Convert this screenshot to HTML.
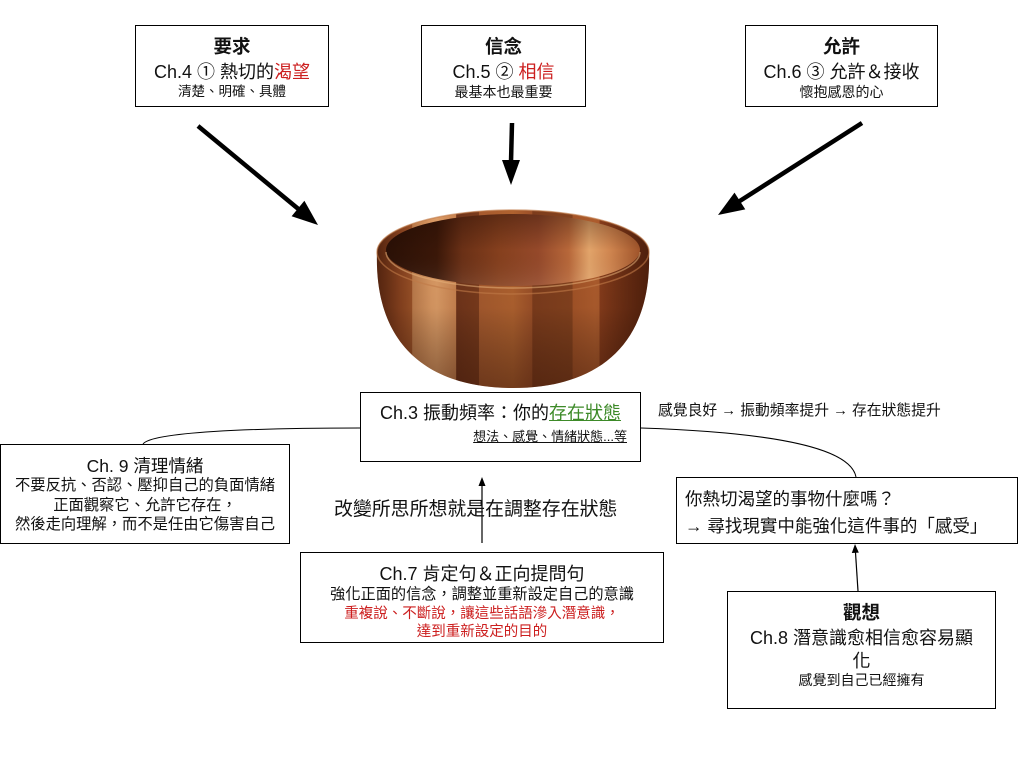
<!DOCTYPE html>
<html>
<head>
<meta charset="utf-8">
<style>
  html,body{margin:0;padding:0;background:#fff;}
  body{width:1024px;height:768px;position:relative;overflow:hidden;
    font-family:"Liberation Sans","Noto Sans CJK TC","Noto Sans CJK SC",sans-serif;color:#111;}
  .box{position:absolute;border:1px solid #000;background:#fff;box-sizing:border-box;}
  .l{position:absolute;left:0;right:0;text-align:center;white-space:nowrap;line-height:24px;height:24px;}
  .b{font-weight:bold;}
  .red{color:#cc1f1f;}
  .grn{color:#3d8a28;text-decoration:underline;}
  .lab{position:absolute;white-space:nowrap;line-height:24px;height:24px;}
  svg{position:absolute;left:0;top:0;}
</style>
</head>
<body>
<svg width="1024" height="768" viewBox="0 0 1024 768">
  <defs>
    <linearGradient id="stripes" gradientUnits="userSpaceOnUse" x1="377" y1="0" x2="649" y2="0">
      <stop offset="0" stop-color="#6e3216"/>
      <stop offset="0.08" stop-color="#9a4c24"/>
      <stop offset="0.129" stop-color="#a85a2c"/>
      <stop offset="0.13" stop-color="#cf8a55"/>
      <stop offset="0.22" stop-color="#dc9c66"/>
      <stop offset="0.29" stop-color="#c98350"/>
      <stop offset="0.292" stop-color="#70341a"/>
      <stop offset="0.374" stop-color="#7a3b1c"/>
      <stop offset="0.376" stop-color="#a65a2e"/>
      <stop offset="0.5" stop-color="#b0622f"/>
      <stop offset="0.57" stop-color="#9c5028"/>
      <stop offset="0.572" stop-color="#7d3c1c"/>
      <stop offset="0.718" stop-color="#84421e"/>
      <stop offset="0.72" stop-color="#a45428"/>
      <stop offset="0.817" stop-color="#b05e2e"/>
      <stop offset="0.819" stop-color="#8a3e1c"/>
      <stop offset="1" stop-color="#6a2c12"/>
    </linearGradient>
    <linearGradient id="shadeV" x1="0" y1="0" x2="0" y2="1">
      <stop offset="0" stop-color="#000" stop-opacity="0"/>
      <stop offset="0.55" stop-color="#000" stop-opacity="0.05"/>
      <stop offset="1" stop-color="#2a0e04" stop-opacity="0.45"/>
    </linearGradient>
    <linearGradient id="shadeH" x1="0" y1="0" x2="1" y2="0">
      <stop offset="0" stop-color="#2a0e04" stop-opacity="0.35"/>
      <stop offset="0.2" stop-color="#2a0e04" stop-opacity="0"/>
      <stop offset="0.8" stop-color="#2a0e04" stop-opacity="0"/>
      <stop offset="1" stop-color="#2a0e04" stop-opacity="0.4"/>
    </linearGradient>
    <linearGradient id="inner" gradientUnits="userSpaceOnUse" x1="386" y1="0" x2="640" y2="0">
      <stop offset="0" stop-color="#2a1006"/>
      <stop offset="0.2" stop-color="#3a1708"/>
      <stop offset="0.3" stop-color="#6a3016"/>
      <stop offset="0.45" stop-color="#86401e"/>
      <stop offset="0.6" stop-color="#95492a"/>
      <stop offset="0.72" stop-color="#b8683a"/>
      <stop offset="0.8" stop-color="#e2a46a"/>
      <stop offset="0.88" stop-color="#d08650"/>
      <stop offset="1" stop-color="#a0542a"/>
    </linearGradient>
    <linearGradient id="innerV" x1="0" y1="0" x2="0" y2="1">
      <stop offset="0" stop-color="#1a0802" stop-opacity="0.35"/>
      <stop offset="0.5" stop-color="#1a0802" stop-opacity="0"/>
      <stop offset="1" stop-color="#fff" stop-opacity="0.08"/>
    </linearGradient>
  </defs>

  <!-- Bowl -->
  <path id="bowlBody" d="M377,252 A136,42 0 0 1 649,252 C652,345 598,388 513,388 C428,388 374,345 377,252 Z" fill="url(#stripes)"/>
  <path d="M377,252 A136,42 0 0 1 649,252 C652,345 598,388 513,388 C428,388 374,345 377,252 Z" fill="url(#shadeV)"/>
  <path d="M377,252 A136,42 0 0 1 649,252 C652,345 598,388 513,388 C428,388 374,345 377,252 Z" fill="url(#shadeH)"/>
  <ellipse cx="513" cy="252" rx="136" ry="42" fill="none" stroke="#c07a48" stroke-width="1.5" stroke-opacity="0.6"/>
  <ellipse cx="513" cy="250" rx="127" ry="36" fill="url(#inner)"/>
  <ellipse cx="513" cy="250" rx="127" ry="36" fill="url(#innerV)"/>
  <path d="M386,252 A127,36 0 0 0 640,252" fill="none" stroke="#e6b07a" stroke-width="1.5" stroke-opacity="0.55"/>

  <!-- Thick arrows -->
  <line x1="198" y1="126" x2="299" y2="209.5" stroke="#000" stroke-width="4.5"/>
  <polygon points="318,225 291.6,216.2 304.4,200.8" fill="#000"/>
  <line x1="512" y1="123" x2="511" y2="162" stroke="#000" stroke-width="4.5"/>
  <polygon points="511,185 502,160 520,160" fill="#000"/>
  <line x1="862" y1="123" x2="739" y2="201.5" stroke="#000" stroke-width="4.5"/>
  <polygon points="718,215 734.5,192.6 745.3,209.4" fill="#000"/>

  <!-- Curved connectors -->
  <path d="M143,444 C152,432 250,428 360,428" fill="none" stroke="#000" stroke-width="1"/>
  <path d="M641,428 C760,432 850,445 856,477" fill="none" stroke="#000" stroke-width="1"/>

  <!-- Thin arrows -->
  <line x1="482" y1="543" x2="482" y2="484" stroke="#000" stroke-width="1.2"/>
  <polygon points="482,477 478.5,486 485.5,486" fill="#000"/>
  <line x1="858" y1="591" x2="855.4" y2="551" stroke="#000" stroke-width="1.2"/>
  <polygon points="855,544 851.8,553 858.8,552.6" fill="#000"/>
</svg>

<!-- Top boxes -->
<div class="box" style="left:135px;top:25px;width:194px;height:82px;">
  <div class="l b" style="top:9px;font-size:18.5px;">要求</div>
  <div class="l" style="top:34px;font-size:18px;">Ch.4 ① 熱切的<span class="red">渴望</span></div>
  <div class="l" style="top:54px;font-size:13.5px;">清楚、明確、具體</div>
</div>
<div class="box" style="left:421px;top:25px;width:165px;height:82px;">
  <div class="l b" style="top:9px;font-size:18.5px;">信念</div>
  <div class="l" style="top:34px;font-size:18px;">Ch.5 ② <span class="red">相信</span></div>
  <div class="l" style="top:54px;font-size:14px;">最基本也最重要</div>
</div>
<div class="box" style="left:745px;top:25px;width:193px;height:82px;">
  <div class="l b" style="top:9px;font-size:18.5px;">允許</div>
  <div class="l" style="top:34px;font-size:18px;">Ch.6 ③ 允許＆接收</div>
  <div class="l" style="top:54px;font-size:14px;">懷抱感恩的心</div>
</div>

<!-- Ch.3 -->
<div class="box" style="left:360px;top:392px;width:281px;height:70px;">
  <div class="l" style="top:8px;font-size:18px;">Ch.3 振動頻率：你的<span class="grn">存在狀態</span></div>
  <div class="l" style="top:32px;font-size:13px;text-align:right;right:13px;left:auto;text-decoration:underline;">想法、感覺、情緒狀態...等</div>
</div>
<div class="lab" style="left:658px;top:399px;font-size:14.8px;">感覺良好 → 振動頻率提升 → 存在狀態提升</div>

<!-- Ch.9 -->
<div class="box" style="left:0px;top:444px;width:290px;height:100px;">
  <div class="l" style="top:9px;font-size:17.5px;">Ch. 9 清理情緒</div>
  <div class="l" style="top:29px;font-size:15.3px;">不要反抗、否認、壓抑自己的負面情緒</div>
  <div class="l" style="top:49px;font-size:15.3px;">正面觀察它、允許它存在，</div>
  <div class="l" style="top:68px;font-size:15.3px;">然後走向理解，而不是任由它傷害自己</div>
</div>

<!-- middle label -->
<div class="lab" style="left:334px;top:498px;font-size:18.9px;">改變所思所想就是在調整存在狀態</div>

<!-- right box -->
<div class="box" style="left:676px;top:477px;width:342px;height:67px;">
  <div class="l" style="top:9px;left:8px;text-align:left;font-size:17.5px;">你熱切渴望的事物什麼嗎？</div>
  <div class="l" style="top:36px;left:8px;text-align:left;font-size:17.5px;">→ 尋找現實中能強化這件事的「感受」</div>
</div>

<!-- Ch.7 -->
<div class="box" style="left:300px;top:552px;width:364px;height:91px;">
  <div class="l" style="top:9px;font-size:18px;">Ch.7 肯定句＆正向提問句</div>
  <div class="l" style="top:30px;font-size:15.2px;">強化正面的信念，調整並重新設定自己的意識</div>
  <div class="l red" style="top:49px;font-size:14.5px;">重複說、不斷說，讓這些話語滲入潛意識，</div>
  <div class="l red" style="top:67px;font-size:14.5px;">達到重新設定的目的</div>
</div>

<!-- Ch.8 -->
<div class="box" style="left:727px;top:591px;width:269px;height:118px;">
  <div class="l b" style="top:9px;font-size:18.5px;">觀想</div>
  <div class="l" style="top:34px;font-size:18px;">Ch.8 潛意識愈相信愈容易顯</div>
  <div class="l" style="top:57px;font-size:18px;">化</div>
  <div class="l" style="top:76px;font-size:14px;">感覺到自己已經擁有</div>
</div>
</body>
</html>
